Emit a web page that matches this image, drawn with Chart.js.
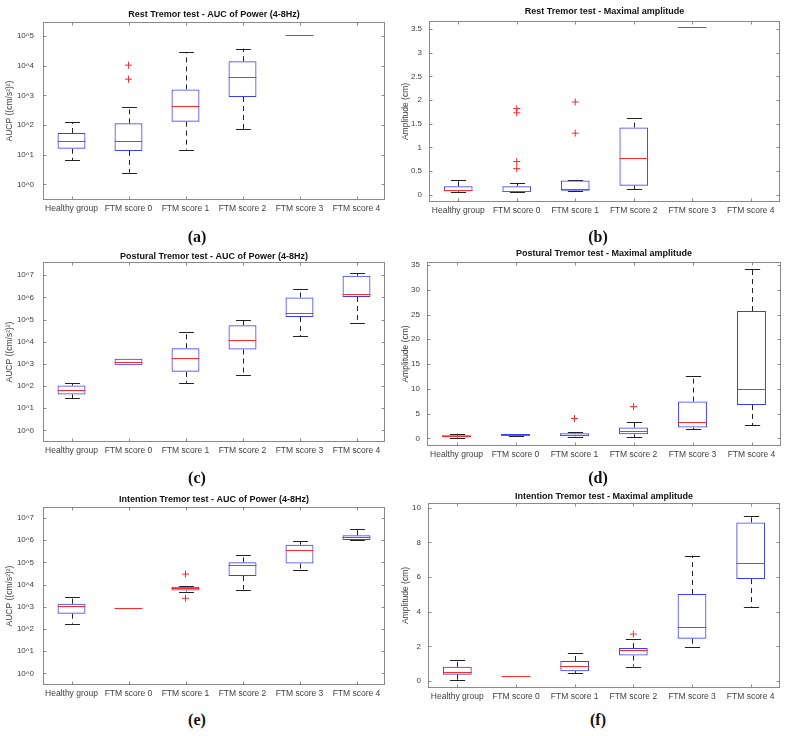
<!DOCTYPE html>
<html lang="en">
<head>
<meta charset="UTF-8">
<title>Tremor tests - box plots</title>
<script src="https://cdn.jsdelivr.net/npm/chart.js"></script>
<style>
    body { margin: 0; background: #fff; width: 788px; height: 736px; position: relative; overflow: hidden; }
    canvas { position: absolute; }
    .tag { position: absolute; font: bold 16px "Liberation Serif", serif; color: #111; transform: translate(-50%, -50%); }
</style>
</head>
<body>
<canvas id="restAuc"></canvas>
<canvas id="restAmp"></canvas>
<canvas id="posturalAuc"></canvas>
<canvas id="posturalAmp"></canvas>
<canvas id="intentionAuc"></canvas>
<canvas id="intentionAmp"></canvas>
<div class="tag" style="left:197px;top:237px">(a)</div>
<div class="tag" style="left:598px;top:237px">(b)</div>
<div class="tag" style="left:197px;top:478px">(c)</div>
<div class="tag" style="left:598px;top:478px">(d)</div>
<div class="tag" style="left:197px;top:720px">(e)</div>
<div class="tag" style="left:598px;top:720px">(f)</div>

<script>
    const groups = ['Healthy group', 'FTM score 0', 'FTM score 1', 'FTM score 2', 'FTM score 3', 'FTM score 4'];

    // (a) rest tremor, AUC of power
    const restAucLo  = [6.7, 2.5, 15, 74, null, null];
    const restAucQ1  = [16, 13.5, 130, 880, null, null];
    const restAucMed = [28, 29, 425, 4200, 105000, null];
    const restAucQ3  = [54, 114, 1590, 14100, null, null];
    const restAucHi  = [123, 405, 29000, 37500, null, null];
    const restAucOut = [[], [10400, 3500], [], [], [], []];

    // (b) rest tremor, maximal amplitude
    const restAmpLo  = [0.055, 0.05, 0.07, 0.12, null, null];
    const restAmpQ1  = [0.07, 0.055, 0.085, 0.19, null, null];
    const restAmpMed = [0.105, 0.08, 0.13, 0.78, 3.55, null];
    const restAmpQ3  = [0.18, 0.18, 0.30, 1.42, null, null];
    const restAmpHi  = [0.32, 0.25, 0.30, 1.62, null, null];
    const restAmpOut = [[], [1.82, 1.73, 0.70, 0.55], [1.96, 1.30], [], [], []];

    // (c) postural tremor, AUC of power
    const posturalAucLo  = [27.6, null, 141, 324, 18200, 71000];
    const posturalAucQ1  = [42, 880, 440, 4470, 132000, 1.05e6];
    const posturalAucMed = [66, 1240, 1820, 12600, 200000, 1.48e6];
    const posturalAucQ3  = [107, 1700, 5100, 55000, 1.0e6, 9.6e6];
    const posturalAucHi  = [131, null, 27000, 96000, 2.4e6, 1.23e7];
    const posturalAucOut = [[], [], [], [], [], []];

    // (d) postural tremor, maximal amplitude
    const posturalAmpLo  = [0.15, 0.47, 0.35, 0.2, 1.82, 2.63];
    const posturalAmpQ1  = [0.27, 0.47, 0.4, 0.8, 2.16, 6.74];
    const posturalAmpMed = [0.4, 0.65, 0.68, 1.5, 3.37, 9.9];
    const posturalAmpQ3  = [0.6, 0.88, 1.0, 2.16, 7.42, 25.7];
    const posturalAmpHi  = [0.95, 0.88, 1.28, 3.2, 12.68, 34.1];
    const posturalAmpOut = [[], [], [4.0], [6.4], [], []];

    // (e) intention tremor, AUC of power
    const intentionAucLo  = [175, null, 4900, 6000, 46000, 1.0e6];
    const intentionAucQ1  = [490, null, 5400, 24500, 89000, 1.02e6];
    const intentionAucMed = [1050, 850, 7100, 78000, 360000, 1.38e6];
    const intentionAucQ3  = [1380, null, 8100, 102000, 630000, 1.7e6];
    const intentionAucHi  = [2740, null, 8500, 210000, 890000, 3.3e6];
    const intentionAucOut = [[], [], [30000, 2440], [], [], []];

    // (f) intention tremor, maximal amplitude
    const intentionAmpLo  = [0.08, null, 0.47, 0.84, 1.98, 4.29];
    const intentionAmpQ1  = [0.37, null, 0.57, 1.47, 2.44, 5.88];
    const intentionAmpMed = [0.52, 0.31, 0.88, 1.80, 3.12, 6.81];
    const intentionAmpQ3  = [0.82, null, 1.16, 1.90, 5.02, 9.15];
    const intentionAmpHi  = [1.22, null, 1.63, 2.42, 7.23, 9.5];
    const intentionAmpOut = [[], [], [], [2.71], [], []];

    // tick labels
    const logTicks5 = [1, 10, 100, 1e3, 1e4, 1e5];
    const logTicks7 = [1, 10, 100, 1e3, 1e4, 1e5, 1e6, 1e7];
    const restAmpTicks = [0, 0.5, 1, 1.5, 2, 2.5, 3, 3.5];
    const posturalAmpTicks = [0, 5, 10, 15, 20, 25, 30, 35];
    const intentionAmpTicks = [0, 2, 4, 6, 8, 10];

    const aucTitle = 'AUCP ((cm/s\u00B2)\u00B2)';
    const ampTitle = 'Amplitude (cm)';
    const FONT = '"Liberation Sans", Arial, sans-serif';

    const panels = [
        { id: 'restAuc', title: 'Rest Tremor test - AUC of Power (4-8Hz)', yTitle: aucTitle, log: true, min: 0.316, max: 2.95e5, ticks: logTicks5,
          lo: restAucLo, q1: restAucQ1, med: restAucMed, q3: restAucQ3, hi: restAucHi, out: restAucOut,
          left: 0, plot: [43, 22, 385, 200], titleY: 15 },
        { id: 'restAmp', title: 'Rest Tremor test - Maximal amplitude', yTitle: ampTitle, log: false, min: -0.155, max: 3.67, ticks: restAmpTicks,
          lo: restAmpLo, q1: restAmpQ1, med: restAmpMed, q3: restAmpQ3, hi: restAmpHi, out: restAmpOut,
          left: 394, plot: [429, 21, 780, 202], titleY: 12 },
        { id: 'posturalAuc', title: 'Postural Tremor test - AUC of Power (4-8Hz)', yTitle: aucTitle, log: true, min: 0.316, max: 3.98e7, ticks: logTicks7,
          lo: posturalAucLo, q1: posturalAucQ1, med: posturalAucMed, q3: posturalAucQ3, hi: posturalAucHi, out: posturalAucOut,
          left: 0, plot: [43, 262, 385, 442], titleY: 257 },
        { id: 'posturalAmp', title: 'Postural Tremor test - Maximal amplitude', yTitle: ampTitle, log: false, min: -1.55, max: 35.6, ticks: posturalAmpTicks,
          lo: posturalAmpLo, q1: posturalAmpQ1, med: posturalAmpMed, q3: posturalAmpQ3, hi: posturalAmpHi, out: posturalAmpOut,
          left: 394, plot: [427, 262, 781, 446], titleY: 254 },
        { id: 'intentionAuc', title: 'Intention Tremor test - AUC of Power (4-8Hz)', yTitle: aucTitle, log: true, min: 0.316, max: 3.16e7, ticks: logTicks7,
          lo: intentionAucLo, q1: intentionAucQ1, med: intentionAucMed, q3: intentionAucQ3, hi: intentionAucHi, out: intentionAucOut,
          left: 0, plot: [43, 507, 385, 685], titleY: 500 },
        { id: 'intentionAmp', title: 'Intention Tremor test - Maximal amplitude', yTitle: ampTitle, log: false, min: -0.4, max: 10.27, ticks: intentionAmpTicks,
          lo: intentionAmpLo, q1: intentionAmpQ1, med: intentionAmpMed, q3: intentionAmpQ3, hi: intentionAmpHi, out: intentionAmpOut,
          left: 394, plot: [428, 503, 780, 688], titleY: 497 }
    ];

    // whiskers, medians, frame and title drawn with the chart's scales
    function boxPlugin(p, canvasTop) {
        return {
            id: 'boxplot_' + p.id,
            beforeDatasetsDraw(chart) {
                const { ctx, scales: { x, y } } = chart;
                const cat = x.width / groups.length;
                const capHalf = cat * 0.13;
                ctx.save();
                ctx.strokeStyle = '#222';
                ctx.lineWidth = 1;
                groups.forEach((g, i) => {
                    const cx = Math.round(x.getPixelForValue(i)) + 0.5;
                    [[p.q3[i], p.hi[i]], [p.q1[i], p.lo[i]]].forEach(([from, to]) => {
                        if (to == null) return;
                        const start = from == null ? p.med[i] : from;
                        ctx.setLineDash([5, 4]);
                        ctx.beginPath();
                        ctx.moveTo(cx, y.getPixelForValue(start));
                        ctx.lineTo(cx, y.getPixelForValue(to));
                        ctx.stroke();
                        ctx.setLineDash([]);
                        const yy = Math.round(y.getPixelForValue(to)) + 0.5;
                        ctx.beginPath();
                        ctx.moveTo(cx - capHalf, yy);
                        ctx.lineTo(cx + capHalf, yy);
                        ctx.stroke();
                    });
                });
                ctx.restore();
            },
            afterDatasetsDraw(chart) {
                const { ctx, scales: { x, y } } = chart;
                const half = x.width / groups.length * 0.245;
                ctx.save();
                ctx.strokeStyle = '#ff2a2a';
                ctx.lineWidth = 1;
                groups.forEach((g, i) => {
                    if (p.med[i] == null) return;
                    const cx = x.getPixelForValue(i);
                    const yy = Math.round(y.getPixelForValue(p.med[i])) + 0.5;
                    ctx.beginPath();
                    ctx.moveTo(cx - half, yy);
                    ctx.lineTo(cx + half, yy);
                    ctx.stroke();
                });
                ctx.restore();
            },
            afterDraw(chart) {
                const { ctx, chartArea: a, scales: { x, y } } = chart;
                ctx.save();
                ctx.strokeStyle = '#8a8a8a';
                ctx.lineWidth = 1;
                const l = Math.round(a.left) + 0.5, r = Math.round(a.right) - 0.5;
                const t = Math.round(a.top) + 0.5, b = Math.round(a.bottom) - 0.5;
                ctx.strokeRect(l, t, r - l, b - t);
                ctx.beginPath();
                y.ticks.forEach(tk => {
                    const yy = Math.round(y.getPixelForValue(tk.value)) + 0.5;
                    ctx.moveTo(l, yy); ctx.lineTo(l + 3, yy);
                    ctx.moveTo(r, yy); ctx.lineTo(r - 3, yy);
                });
                groups.forEach((g, i) => {
                    const xx = Math.round(x.getPixelForValue(i)) + 0.5;
                    ctx.moveTo(xx, b); ctx.lineTo(xx, b - 3);
                    ctx.moveTo(xx, t); ctx.lineTo(xx, t + 3);
                });
                ctx.stroke();
                ctx.fillStyle = '#111';
                ctx.font = 'bold 9px ' + FONT;
                ctx.textAlign = 'center';
                ctx.textBaseline = 'middle';
                ctx.fillText(p.title, (a.left + a.right) / 2, p.titleY - canvasTop);
                ctx.restore();
            }
        };
    }

    panels.forEach(p => {
        const [pl, pt, pr, pb] = p.plot;
        const top = pt - 22;
        const cv = document.getElementById(p.id);
        cv.width = 394;
        cv.height = pb - top + 22;
        cv.style.left = p.left + 'px';
        cv.style.top = top + 'px';

        const boxes = groups.map((g, i) =>
            (p.q1[i] != null && p.q3[i] != null) ? [p.q1[i], p.q3[i]] : null);
        const outliers = [];
        p.out.forEach((vals, i) => vals.forEach(v => outliers.push({ x: groups[i], y: v })));

        new Chart(cv, {
            type: 'bar',
            data: {
                labels: groups,
                datasets: [
                    {
                        type: 'bar',
                        data: boxes,
                        backgroundColor: 'rgba(0,0,0,0)',
                        borderColor: '#3c3cff',
                        borderWidth: 1,
                        borderSkipped: false,
                        barPercentage: 0.49,
                        categoryPercentage: 1
                    },
                    {
                        type: 'scatter',
                        data: outliers,
                        pointStyle: 'cross',
                        pointRadius: 3.5,
                        borderColor: '#ff2a2a',
                        borderWidth: 1
                    }
                ]
            },
            options: {
                responsive: false,
                animation: false,
                layout: { padding: { top: 22, bottom: 4, left: 0, right: p.left + 394 - pr } },
                plugins: { legend: { display: false }, tooltip: { enabled: false }, title: { display: false } },
                scales: {
                    x: {
                        type: 'category',
                        offset: true,
                        grid: { display: false, drawTicks: false },
                        border: { display: false },
                        ticks: { color: '#404040', font: { family: FONT, size: 8.5 }, padding: 4, maxRotation: 0, autoSkip: false },
                        afterFit: s => { s.height = 18; }
                    },
                    y: {
                        type: p.log ? 'logarithmic' : 'linear',
                        min: p.min,
                        max: p.max,
                        grid: { display: false, drawTicks: false },
                        border: { display: false },
                        afterBuildTicks: s => { s.ticks = p.ticks.map(v => ({ value: v })); },
                        ticks: {
                            color: '#404040',
                            font: { family: FONT, size: 8 },
                            padding: p.log ? 9 : 7,
                            callback: v => p.log ? '10^' + Math.round(Math.log10(v)) : String(v)
                        },
                        title: {
                            display: true,
                            text: p.yTitle,
                            color: '#404040',
                            font: { family: FONT, size: 8.5 },
                            padding: { top: p.log ? 5 : 7, bottom: 0 }
                        },
                        afterFit: s => { s.width = pl - p.left; }
                    }
                }
            },
            plugins: [boxPlugin(p, top)]
        });
    });
</script>
</body>
</html>
